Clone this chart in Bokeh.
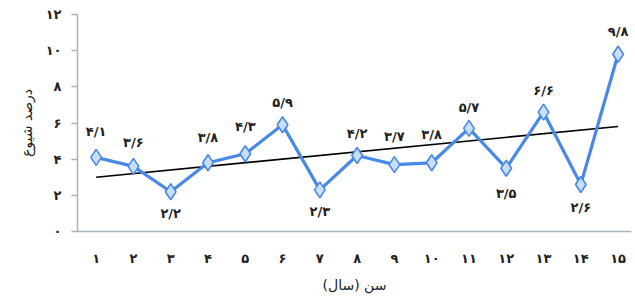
import numpy as np
from bokeh.plotting import figure
from bokeh.models import ColumnDataSource, FixedTicker, Range1d
from bokeh.core.properties import value
from bokeh.embed import file_html
from bokeh.resources import INLINE

ages = list(range(1, 16))
age_labels = ["۱", "۲", "۳", "۴", "۵", "۶", "۷", "۸", "۹", "۱۰", "۱۱", "۱۲", "۱۳", "۱۴", "۱۵"]
prevalence = [4.1, 3.6, 2.2, 3.8, 4.3, 5.9, 2.3, 4.2, 3.7, 3.8, 5.7, 3.5, 6.6, 2.6, 9.8]
value_labels = ["۴/۱", "۳/۶", "۲/۲", "۳/۸", "۴/۳", "۵/۹", "۲/۳", "۴/۲", "۳/۷", "۳/۸", "۵/۷", "۳/۵", "۶/۶", "۲/۶", "۹/۸"]
y_ticks = [0, 2, 4, 6, 8, 10, 12]
y_tick_labels = ["۰", "۲", "۴", "۶", "۸", "۱۰", "۱۲"]

# label placement (style): pixel offsets
label_offsets = [-26, -24, 22, -25, -27, -22, 22, -22, -28, -28, -21, 25, -22, 23, -23]

FONT = "DejaVu Sans"
LINE = "#4889e8"

p = figure(frame_width=554, frame_height=217, output_backend="svg", toolbar_location=None,
           x_range=Range1d(0.5, 15.36), y_range=Range1d(0, 12),
           min_border_left=77, min_border_top=14, min_border_right=2, min_border_bottom=60)
p.outline_line_color = None
p.grid.grid_line_color = None
p.background_fill_color = "white"

# trend line (least squares from data)
slope, intercept = np.polyfit(ages, prevalence, 1)
tx = [ages[0], ages[-1]]
p.line(tx, [slope * x + intercept for x in tx], line_color="black", line_width=1.6)

src = ColumnDataSource(dict(x=ages, y=prevalence, lab=value_labels, off=label_offsets))
p.line("x", "y", source=src, line_color=LINE, line_width=3.2)
p.scatter("x", "y", source=src, marker="diamond", size=16, fill_color="#c9def8",
          line_color=LINE, line_width=1.6)
p.text("x", "y", text="lab", source=src, y_offset="off", text_align="center",
       text_baseline="middle", text_font=value(FONT), text_font_size="13px",
       text_font_style="bold", text_color="#222222")

AX = "#a9b3bb"
p.xaxis.ticker = FixedTicker(ticks=ages)
p.xaxis.major_label_overrides = {a: l for a, l in zip(ages, age_labels)}
p.xaxis.major_tick_line_color = None
p.xaxis.minor_tick_line_color = None
p.xaxis.major_label_standoff = 13
p.xaxis.axis_line_color = AX
p.xaxis.axis_line_width = 1.5
p.xaxis.axis_label = "سن (سال)"
p.xaxis.axis_label_standoff = 8

p.yaxis.ticker = FixedTicker(ticks=y_ticks)
p.yaxis.major_label_overrides = {t: l for t, l in zip(y_ticks, y_tick_labels)}
p.yaxis.minor_tick_line_color = None
p.yaxis.major_tick_in = 0
p.yaxis.major_tick_out = 6
p.yaxis.major_tick_line_color = AX
p.yaxis.major_tick_line_width = 1.5
p.yaxis.axis_line_color = AX
p.yaxis.axis_line_width = 1.5
p.yaxis.major_label_standoff = 10
p.yaxis.axis_label = "درصد شیوع"
p.yaxis.axis_label_standoff = 8

for ax in (p.xaxis, p.yaxis):
    ax.major_label_text_font = FONT
    ax.major_label_text_font_size = "13px"
    ax.major_label_text_font_style = "bold"
    ax.major_label_text_color = "#222222"
    ax.axis_label_text_font = FONT
    ax.axis_label_text_font_size = "14px"
    ax.axis_label_text_font_style = "normal"
    ax.axis_label_text_color = "#222222"

open("out.html", "w").write(file_html(p, INLINE))
